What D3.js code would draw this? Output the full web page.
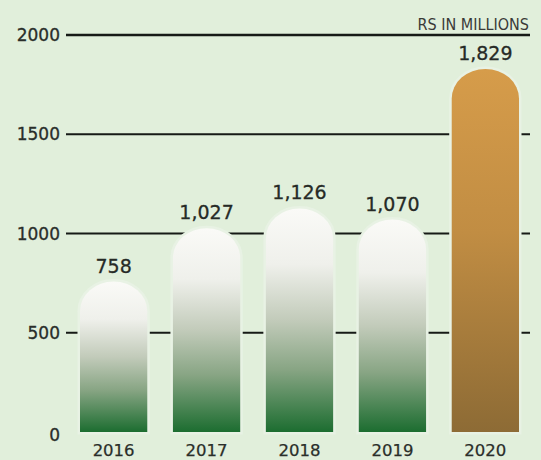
<!DOCTYPE html>
<html>
<head>
<meta charset="utf-8">
<script src="https://cdn.jsdelivr.net/npm/d3@7"></script>
<style>
  html, body { margin: 0; padding: 0; background: #e1efdb; }
  svg { display: block; }
</style>
</head>
<body>
<svg id="chart" width="541" height="460"></svg>
<script>
// Revenue by year, Rs in millions
const years = ["2016", "2017", "2018", "2019", "2020"];
const values = [758, 1027, 1126, 1070, 1829];
const valueLabels = ["758", "1,027", "1,126", "1,070", "1,829"];
const yTicks = [0, 500, 1000, 1500, 2000];
const unitLabel = "RS IN MILLIONS";
const highlightYear = "2020";

const W = 541, H = 460;
const bg = "#e1efdb";
const svg = d3.select("#chart");

svg.append("rect").attr("width", W).attr("height", H).attr("fill", bg);

const y = d3.scaleLinear().domain([0, 2000]).range([432, 35]);
const x = d3.scaleBand().domain(years).range([80, 519]).paddingInner(0.276).paddingOuter(0);

// gradients
const defs = svg.append("defs");
const gGreen = defs.append("linearGradient").attr("id", "gGreen")
  .attr("x1", 0).attr("y1", 0).attr("x2", 0).attr("y2", 1);
[[0, "#fafaf7"], [0.25, "#eff0eb"], [0.5, "#c2cbba"], [0.72, "#88a584"], [1, "#1c6d30"]]
  .forEach(([o, c]) => gGreen.append("stop").attr("offset", o).attr("stop-color", c));
const gGold = defs.append("linearGradient").attr("id", "gGold")
  .attr("x1", 0).attr("y1", 0).attr("x2", 0).attr("y2", 1);
[[0, "#d69c4a"], [0.45, "#c18d43"], [1, "#8d6b35"]]
  .forEach(([o, c]) => gGold.append("stop").attr("offset", o).attr("stop-color", c));

// gridlines
const gridTicks = yTicks.filter(t => t > 0);
svg.append("g").selectAll("line").data(gridTicks).join("line")
  .attr("x1", 66).attr("x2", 530)
  .attr("y1", d => y(d)).attr("y2", d => y(d))
  .attr("stroke", "#161a16")
  .attr("stroke-width", d => d === 2000 ? 2.6 : 2.1);

// y tick labels
svg.append("g").selectAll("text").data(yTicks).join("text")
  .attr("x", 60)
  .attr("y", d => d === 0 ? y(d) + 3 : y(d))
  .attr("dy", "0.36em")
  .attr("text-anchor", "end")
  .attr("font-family", "DejaVu Sans, sans-serif")
  .attr("font-size", 17)
  .attr("fill", "#2a2e2a")
  .attr("stroke", "#2a2e2a").attr("stroke-width", 0.3)
  .text(d => d);

// unit label
svg.append("text")
  .attr("x", 529).attr("y", 30)
  .attr("text-anchor", "end")
  .attr("font-family", "Liberation Sans Narrow, DejaVu Sans Condensed, sans-serif")
  .attr("font-stretch", "condensed")
  .attr("font-size", 16)
  .attr("fill", "#3a3a38")
  .text(unitLabel);

// bar outline with rounded (elliptical) top
function barPath(d, i) {
  const x0 = x(years[i]), w = x.bandwidth();
  const rx = w / 2, ry = w / 2 * 0.88;
  const top = y(d), bottom = y(0);
  return `M${x0},${bottom} L${x0},${top + ry} A${rx},${ry} 0 0 1 ${x0 + w},${top + ry} L${x0 + w},${bottom} Z`;
}

const bars = svg.append("g");
// light halo that separates bars from the gridlines
bars.selectAll("path.halo").data(values).join("path")
  .attr("class", "halo")
  .attr("d", barPath)
  .attr("fill", "#e8f2e4").attr("stroke", "#e8f2e4").attr("stroke-width", 5);
bars.selectAll("path.bar").data(values).join("path")
  .attr("class", "bar")
  .attr("d", barPath)
  .attr("fill", (d, i) => years[i] === highlightYear ? "url(#gGold)" : "url(#gGreen)");

// value labels
svg.append("g").selectAll("text").data(values).join("text")
  .attr("x", (d, i) => x(years[i]) + x.bandwidth() / 2)
  .attr("y", d => y(d) - 9)
  .attr("text-anchor", "middle")
  .attr("font-family", "DejaVu Sans, sans-serif")
  .attr("font-size", 19)
  .attr("fill", "#262a26")
  .attr("stroke", "#262a26").attr("stroke-width", 0.3)
  .text((d, i) => valueLabels[i]);

// year labels
svg.append("g").selectAll("text").data(years).join("text")
  .attr("x", d => x(d) + x.bandwidth() / 2)
  .attr("y", 456)
  .attr("text-anchor", "middle")
  .attr("font-family", "DejaVu Sans, sans-serif")
  .attr("font-size", 16.5)
  .attr("fill", "#2a2e2a")
  .attr("stroke", "#2a2e2a").attr("stroke-width", 0.25)
  .text(d => d);
</script>
</body>
</html>
